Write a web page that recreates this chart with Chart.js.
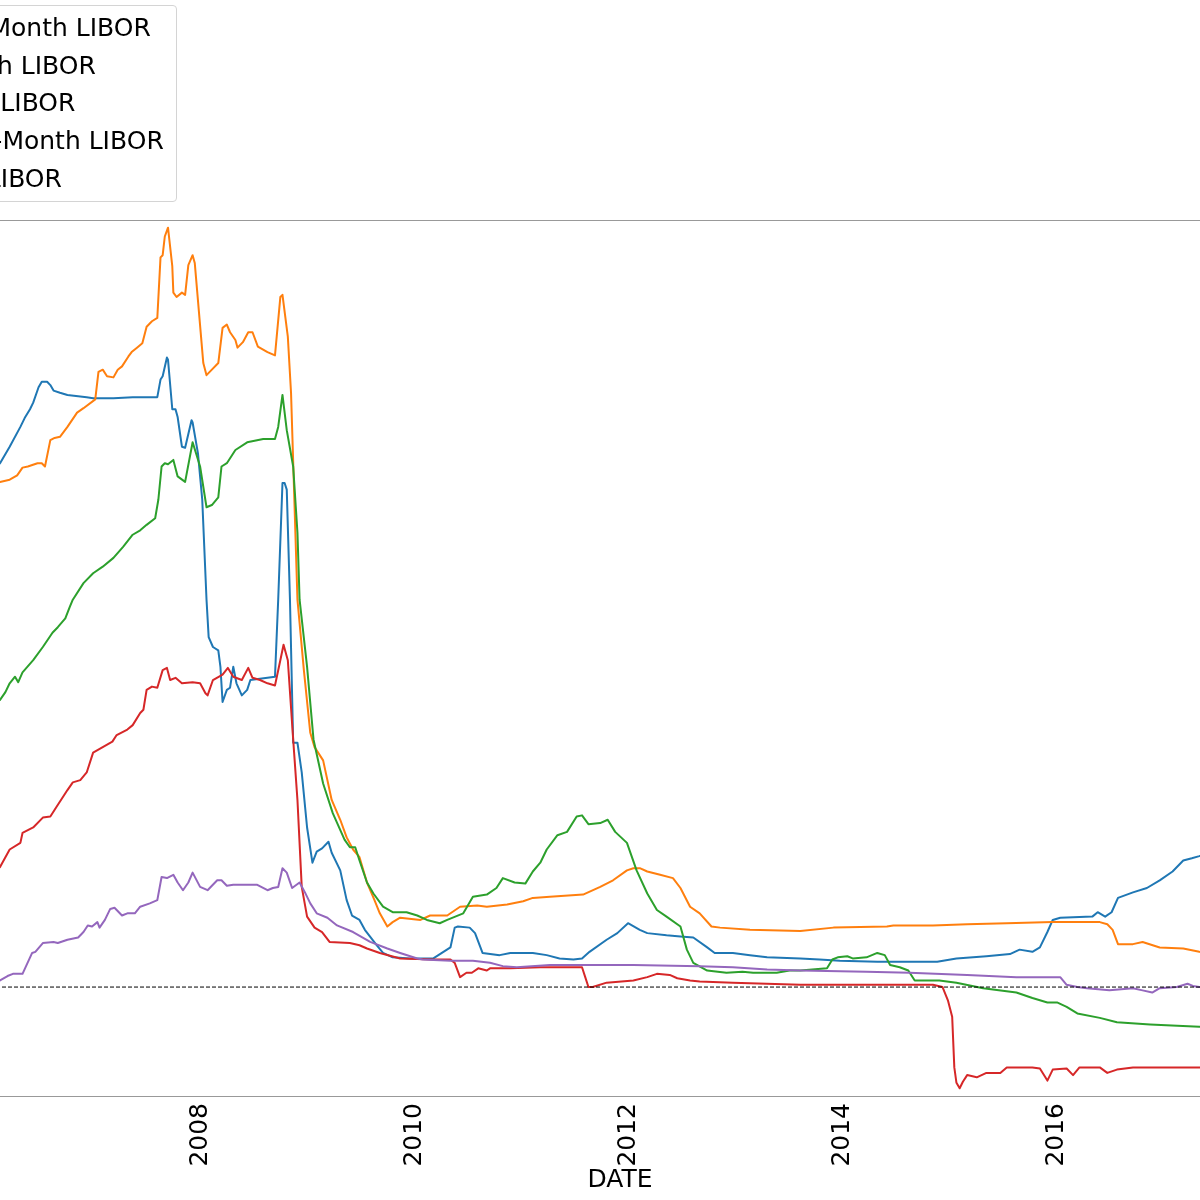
<!DOCTYPE html>
<html>
<head>
<meta charset="utf-8">
<script src="https://cdn.jsdelivr.net/npm/chart.js@4.4.1/dist/chart.umd.min.js"></script>
<style>
  html, body { margin: 0; padding: 0; width: 1200px; height: 1200px; overflow: hidden; background: #fff; }
  #wrap { position: absolute; left: -120px; top: 0; width: 1440px; height: 1200px; }
  #legend { position: absolute; left: -257px; top: 5px; width: 434px; height: 197px; box-sizing: border-box;
            border: 1px solid #d4d4d4; border-radius: 4px; background: rgba(255,255,255,0.8);
            font-family: 'DejaVu Sans', sans-serif; font-size: 25px; color: #000; z-index: 2; }
  .row { position: absolute; left: 0; height: 30px; line-height: 30px; white-space: nowrap; }
  .swatch { position: absolute; left: 9px; top: 14px; width: 50px; height: 2px; }
  .lbl { position: absolute; left: 80.5px; top: 0; }
</style>
</head>
<body>
<div id="wrap"><canvas id="c" width="1440" height="1200"></canvas></div>
<div id="legend"></div>
<script>
// ---- data (x: decimal year, y: rate in %) ----
const seriesLabels = ['U.S. Dollar 3-Month LIBOR', 'Pound 3-Month LIBOR', 'Euro 3-Month LIBOR',
                      'Swiss Franc 3-Month LIBOR', 'Yen 3-Month LIBOR'];
const seriesColors = ['#1f77b4', '#ff7f0e', '#2ca02c', '#d62728', '#9467bd'];
const tickYears = [2008, 2010, 2012, 2014, 2016];
const xRange = [2006.0, 2017.89];
const yRange = [-0.99, 6.97];

const usdYears = [2006.10,2006.15,2006.24,2006.34,2006.38,2006.43,2006.46,2006.51,2006.54,2006.59,
 2006.62,2006.65,2006.71,2006.78,2006.96,2007.02,2007.21,2007.39,2007.62,2007.65,
 2007.67,2007.71,2007.72,2007.76,2007.79,2007.81,2007.85,2007.88,2007.94,2007.95,
 2008.00,2008.04,2008.08,2008.10,2008.14,2008.19,2008.21,2008.23,2008.27,2008.30,
 2008.33,2008.36,2008.41,2008.46,2008.49,2008.65,2008.72,2008.75,2008.79,2008.81,
 2008.83,2008.86,2008.89,2008.93,2008.97,2009.02,2009.07,2009.11,2009.16,2009.22,
 2009.25,2009.33,2009.39,2009.44,2009.51,2009.56,2009.67,2009.73,2009.82,2009.98,
 2010.20,2010.28,2010.36,2010.40,2010.43,2010.54,2010.59,2010.66,2010.82,2010.92,
 2011.13,2011.26,2011.38,2011.51,2011.59,2011.66,2011.82,2011.92,2012.02,2012.13,
 2012.20,2012.38,2012.51,2012.63,2012.76,2012.83,2013.00,2013.16,2013.32,2013.63,
 2013.81,2014.00,2014.35,2014.65,2014.91,2015.09,2015.37,2015.59,2015.68,2015.80,
 2015.87,2015.94,2015.99,2016.06,2016.36,2016.41,2016.48,2016.54,2016.60,2016.74,
 2016.87,2016.99,2017.11,2017.21,2017.29,2017.36,2017.42];
const usdRates = [4.70,4.76,4.91,5.09,5.17,5.25,5.31,5.45,5.50,5.50,
 5.47,5.42,5.40,5.38,5.36,5.35,5.35,5.36,5.36,5.52,
 5.55,5.72,5.70,5.25,5.25,5.18,4.91,4.90,5.15,5.13,
 4.85,4.43,3.52,3.18,3.09,3.06,2.91,2.59,2.70,2.72,
 2.91,2.76,2.65,2.70,2.79,2.81,2.82,3.52,4.58,4.58,
 4.52,3.52,2.22,2.22,1.95,1.45,1.13,1.23,1.26,1.32,
 1.22,1.06,0.79,0.65,0.61,0.52,0.38,0.31,0.27,0.26,
 0.26,0.31,0.36,0.54,0.55,0.54,0.49,0.31,0.29,0.31,
 0.31,0.29,0.26,0.25,0.26,0.32,0.43,0.49,0.58,0.52,
 0.49,0.47,0.46,0.45,0.36,0.31,0.31,0.29,0.27,0.26,
 0.25,0.24,0.23,0.23,0.23,0.26,0.28,0.30,0.34,0.32,
 0.36,0.50,0.61,0.63,0.64,0.68,0.64,0.68,0.81,0.86,
 0.90,0.97,1.05,1.15,1.17,1.19,1.21];

const gbpYears = [2006.10,2006.15,2006.24,2006.31,2006.36,2006.41,2006.50,2006.54,2006.57,2006.62,
 2006.66,2006.71,2006.78,2006.87,2006.93,2007.04,2007.07,2007.11,2007.15,2007.21,
 2007.25,2007.29,2007.35,2007.38,2007.43,2007.48,2007.52,2007.57,2007.62,2007.65,
 2007.67,2007.69,2007.72,2007.76,2007.77,2007.80,2007.85,2007.88,2007.91,2007.95,
 2007.97,2008.05,2008.08,2008.13,2008.19,2008.23,2008.27,2008.30,2008.35,2008.37,
 2008.42,2008.47,2008.51,2008.56,2008.65,2008.72,2008.77,2008.79,2008.84,2008.87,
 2008.93,2008.99,2009.05,2009.09,2009.17,2009.25,2009.33,2009.39,2009.45,2009.51,
 2009.58,2009.65,2009.70,2009.77,2009.82,2009.89,2010.08,2010.17,2010.33,2010.45,
 2010.61,2010.70,2010.89,2011.04,2011.13,2011.29,2011.60,2011.76,2011.88,2012.01,
 2012.07,2012.13,2012.20,2012.32,2012.44,2012.51,2012.60,2012.69,2012.80,2012.88,
 2013.16,2013.63,2013.94,2014.44,2014.50,2014.87,2015.19,2015.56,2015.99,2016.43,
 2016.50,2016.55,2016.60,2016.74,2016.83,2016.99,2017.21,2017.36,2017.42];
const gbpRates = [4.58,4.59,4.61,4.65,4.72,4.73,4.76,4.76,4.73,4.97,
 4.99,5.00,5.09,5.22,5.26,5.34,5.59,5.61,5.55,5.54,
 5.61,5.64,5.73,5.77,5.81,5.85,6.00,6.05,6.08,6.63,
 6.65,6.82,6.90,6.55,6.31,6.27,6.31,6.29,6.56,6.65,
 6.58,5.67,5.56,5.61,5.67,5.99,6.02,5.95,5.88,5.81,
 5.86,5.95,5.95,5.82,5.77,5.74,6.27,6.29,5.91,5.40,
 3.52,2.88,2.31,2.18,2.06,1.70,1.52,1.36,1.25,1.18,
 0.95,0.79,0.67,0.55,0.59,0.63,0.61,0.65,0.65,0.73,
 0.74,0.73,0.75,0.78,0.81,0.82,0.84,0.91,0.97,1.06,
 1.08,1.08,1.05,1.02,0.99,0.90,0.73,0.67,0.55,0.54,
 0.52,0.51,0.54,0.55,0.56,0.56,0.57,0.58,0.59,0.59,
 0.57,0.52,0.39,0.39,0.41,0.36,0.35,0.32,0.31];

const eurYears = [2006.10,2006.15,2006.20,2006.24,2006.29,2006.32,2006.36,2006.46,2006.55,2006.64,
 2006.69,2006.76,2006.80,2006.83,2006.93,2007.02,2007.11,2007.21,2007.30,2007.39,
 2007.46,2007.52,2007.60,2007.63,2007.66,2007.69,2007.72,2007.77,2007.81,2007.88,
 2007.95,2008.02,2008.08,2008.13,2008.19,2008.22,2008.27,2008.35,2008.46,2008.61,
 2008.72,2008.75,2008.79,2008.83,2008.89,2008.93,2008.95,2009.02,2009.08,2009.17,
 2009.26,2009.37,2009.42,2009.47,2009.51,2009.58,2009.64,2009.73,2009.82,2009.95,
 2010.05,2010.14,2010.26,2010.33,2010.48,2010.57,2010.70,2010.79,2010.85,2010.96,
 2011.06,2011.13,2011.20,2011.26,2011.36,2011.45,2011.54,2011.59,2011.65,2011.76,
 2011.83,2011.90,2012.01,2012.10,2012.20,2012.29,2012.38,2012.51,2012.57,2012.63,
 2012.76,2012.94,2013.09,2013.19,2013.41,2013.53,2013.63,2013.88,2013.93,2013.98,
 2014.07,2014.12,2014.25,2014.35,2014.42,2014.47,2014.56,2014.64,2014.70,2014.93,
 2015.09,2015.34,2015.65,2015.80,2015.94,2016.03,2016.12,2016.22,2016.43,2016.59,
 2016.90,2017.36,2017.42];
const eurRates = [2.58,2.61,2.68,2.76,2.82,2.77,2.86,2.97,3.09,3.22,
 3.27,3.35,3.45,3.52,3.67,3.76,3.82,3.90,4.00,4.11,
 4.15,4.20,4.26,4.43,4.73,4.76,4.75,4.79,4.64,4.59,
 4.95,4.73,4.36,4.38,4.45,4.73,4.76,4.88,4.95,4.98,
 4.98,5.09,5.38,5.06,4.73,4.13,3.52,2.91,2.25,1.85,
 1.58,1.34,1.27,1.27,1.15,0.95,0.85,0.73,0.68,0.68,
 0.65,0.61,0.58,0.61,0.67,0.82,0.84,0.90,0.99,0.95,
 0.94,1.05,1.13,1.25,1.38,1.41,1.55,1.56,1.48,1.49,
 1.52,1.41,1.31,1.06,0.85,0.70,0.64,0.55,0.34,0.22,
 0.15,0.13,0.14,0.13,0.13,0.15,0.15,0.17,0.25,0.27,
 0.28,0.26,0.27,0.31,0.29,0.20,0.18,0.15,0.06,0.06,
 0.04,-0.01,-0.05,-0.10,-0.14,-0.14,-0.18,-0.24,-0.28,-0.32,
 -0.34,-0.36,-0.36];

const chfYears = [2006.10,2006.15,2006.20,2006.24,2006.34,2006.36,2006.46,2006.55,2006.62,2006.68,
 2006.78,2006.83,2006.90,2006.96,2007.02,2007.11,2007.20,2007.24,2007.34,2007.39,
 2007.46,2007.49,2007.52,2007.57,2007.62,2007.67,2007.71,2007.74,2007.79,2007.85,
 2007.95,2008.02,2008.07,2008.09,2008.14,2008.23,2008.28,2008.33,2008.41,2008.47,
 2008.51,2008.58,2008.65,2008.72,2008.77,2008.80,2008.84,2008.89,2008.93,2008.97,
 2009.02,2009.09,2009.16,2009.23,2009.42,2009.51,2009.58,2009.70,2009.89,2010.20,
 2010.36,2010.40,2010.45,2010.51,2010.56,2010.62,2010.70,2010.73,2010.92,2011.20,
 2011.59,2011.62,2011.65,2011.69,2011.82,2012.07,2012.20,2012.29,2012.41,2012.48,
 2012.60,2012.69,2013.00,2013.63,2014.87,2014.96,2015.01,2015.05,2015.07,2015.09,
 2015.12,2015.15,2015.19,2015.28,2015.37,2015.50,2015.56,2015.80,2015.87,2015.94,
 2015.99,2016.12,2016.18,2016.24,2016.43,2016.50,2016.59,2016.74,2017.06,2017.36,
 2017.42];
const chfRates = [1.06,1.09,1.18,1.25,1.31,1.40,1.45,1.54,1.55,1.64,
 1.79,1.86,1.88,1.95,2.13,2.18,2.23,2.29,2.34,2.38,
 2.49,2.52,2.70,2.73,2.72,2.88,2.90,2.79,2.81,2.76,
 2.77,2.76,2.67,2.65,2.79,2.84,2.90,2.82,2.79,2.90,
 2.81,2.79,2.76,2.74,2.97,3.11,2.97,2.25,1.70,0.91,
 0.64,0.54,0.50,0.41,0.40,0.38,0.35,0.31,0.26,0.25,
 0.25,0.22,0.09,0.13,0.13,0.17,0.15,0.17,0.17,0.18,
 0.18,0.09,0.00,0.00,0.04,0.06,0.09,0.12,0.11,0.08,
 0.06,0.05,0.04,0.02,0.02,0.00,-0.12,-0.27,-0.73,-0.87,
 -0.92,-0.86,-0.80,-0.82,-0.78,-0.78,-0.73,-0.73,-0.74,-0.85,
 -0.75,-0.74,-0.80,-0.73,-0.73,-0.78,-0.75,-0.73,-0.73,-0.73,
 -0.73];

const jpyYears = [2006.10,2006.15,2006.22,2006.27,2006.36,2006.45,2006.48,2006.55,2006.65,2006.69,
 2006.78,2006.88,2006.93,2006.97,2007.01,2007.06,2007.08,2007.13,2007.18,2007.22,
 2007.29,2007.34,2007.41,2007.46,2007.55,2007.62,2007.66,2007.71,2007.77,2007.81,
 2007.86,2007.91,2007.95,2008.02,2008.09,2008.18,2008.22,2008.27,2008.33,2008.55,
 2008.65,2008.70,2008.75,2008.79,2008.83,2008.88,2008.95,2009.00,2009.05,2009.11,
 2009.21,2009.30,2009.45,2009.61,2009.77,2009.89,2010.05,2010.10,2010.36,2010.57,
 2010.73,2010.85,2010.98,2011.29,2012.07,2012.69,2013.00,2013.32,2013.63,2014.25,
 2014.65,2015.19,2015.65,2016.06,2016.12,2016.22,2016.31,2016.52,2016.74,2016.83,
 2016.92,2016.99,2017.15,2017.25,2017.30,2017.36,2017.42];
const jpyRates = [0.05,0.06,0.10,0.12,0.12,0.31,0.32,0.40,0.41,0.40,
 0.43,0.45,0.50,0.56,0.55,0.59,0.54,0.61,0.71,0.72,
 0.65,0.67,0.67,0.73,0.76,0.79,1.00,0.99,1.02,0.95,
 0.88,0.95,1.04,0.91,0.88,0.97,0.97,0.92,0.93,0.93,
 0.88,0.90,0.91,1.08,1.04,0.90,0.95,0.86,0.76,0.67,
 0.63,0.56,0.50,0.41,0.35,0.31,0.26,0.25,0.24,0.24,
 0.22,0.19,0.18,0.20,0.20,0.19,0.18,0.16,0.15,0.14,
 0.13,0.11,0.09,0.09,0.02,0.00,-0.01,-0.03,-0.01,-0.03,
 -0.05,-0.01,0.00,0.03,0.01,0.00,0.00];

const zeroLevel = 0;

// ---- build ----
const seriesYears = [usdYears, gbpYears, eurYears, chfYears, jpyYears];
const seriesRates = [usdRates, gbpRates, eurRates, chfRates, jpyRates];
const FONT = "'DejaVu Sans', sans-serif";

const datasets = seriesLabels.map((label, i) => ({
  label,
  data: seriesYears[i].map((x, k) => ({ x, y: seriesRates[i][k] })),
  borderColor: seriesColors[i],
  borderWidth: 2,
  borderJoinStyle: 'round',
  pointRadius: 0,
  tension: 0,
  fill: false,
  order: 5 - i
}));
datasets.push({
  label: 'zero',
  data: xRange.map(x => ({ x, y: zeroLevel })),
  borderColor: '#000',
  borderWidth: 1,
  borderDash: [4, 2],
  pointRadius: 0,
  fill: false,
  order: 0
});

const framePlugin = {
  id: 'frame',
  beforeDatasetsDraw(chart) {
    const { ctx, chartArea: a } = chart;
    ctx.save();
    ctx.strokeStyle = '#999999';
    ctx.lineWidth = 1.2;
    ctx.beginPath();
    ctx.moveTo(a.left, a.top + 0.5); ctx.lineTo(a.right, a.top + 0.5);
    ctx.moveTo(a.left, a.bottom + 0.5); ctx.lineTo(a.right, a.bottom + 0.5);
    ctx.moveTo(a.left + 0.5, a.top); ctx.lineTo(a.left + 0.5, a.bottom);
    ctx.moveTo(a.right - 0.5, a.top); ctx.lineTo(a.right - 0.5, a.bottom);
    ctx.stroke();
    ctx.restore();
  }
};

new Chart(document.getElementById('c'), {
  type: 'line',
  data: { datasets },
  options: {
    responsive: false,
    animation: false,
    layout: { padding: { left: 104, right: 64, top: 220, bottom: 0 } },
    plugins: { legend: { display: false }, tooltip: { enabled: false } },
    scales: {
      x: {
        type: 'linear', min: xRange[0], max: xRange[1],
        grid: { display: false, drawTicks: false },
        border: { display: false },
        ticks: {
          font: { family: FONT, size: 25 }, color: '#000',
          minRotation: 90, maxRotation: 90, autoSkip: false, padding: 7, labelOffset: 3,
          callback: v => String(v)
        },
        afterBuildTicks: s => { s.ticks = tickYears.map(v => ({ value: v })); },
        afterFit: s => { s.height = 104; },
        title: { display: true, text: 'DATE', font: { family: FONT, size: 25 }, color: '#000',
                 padding: { top: 0, bottom: 5 } }
      },
      y: { display: false, min: yRange[0], max: yRange[1] }
    }
  },
  plugins: [framePlugin]
});

// ---- legend (HTML) ----
const legend = document.getElementById('legend');
seriesLabels.forEach((label, i) => {
  const row = document.createElement('div');
  row.className = 'row';
  row.style.top = (6.8 + i * 37.7) + 'px';
  row.style.width = '100%';
  const sw = document.createElement('div');
  sw.className = 'swatch';
  sw.style.background = seriesColors[i];
  const tx = document.createElement('span');
  tx.className = 'lbl';
  tx.textContent = label;
  row.appendChild(sw);
  row.appendChild(tx);
  legend.appendChild(row);
});
</script>
</body>
</html>
